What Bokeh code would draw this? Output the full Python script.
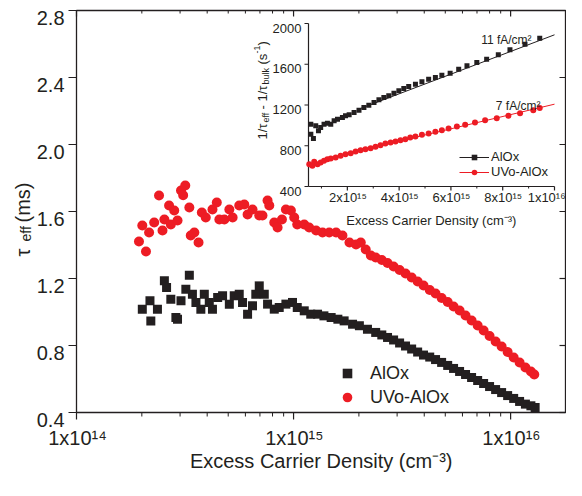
import math
from bokeh.plotting import figure
from bokeh.models import Legend, LegendItem, Range1d, LinearScale
from bokeh.core.properties import value
from bokeh.embed import file_html
from bokeh.resources import INLINE

FONT = "Liberation Sans"
INK = "#231f20"
BLACK = "#231f20"
RED = "#ed1c24"

# ---------------- main plot data (excess carrier density, tau_eff in ms) ----------------
alox_n = [2.01e14, 2.18e14, 2.20e14, 2.36e14, 2.54e14, 2.60e14, 2.72e14, 2.87e14, 2.92e14, 3.03e14,
          3.19e14, 3.31e14, 3.42e14, 3.55e14, 3.74e14, 3.88e14, 4.09e14, 4.23e14, 4.47e14, 4.71e14,
          5.06e14, 5.33e14, 5.62e14, 5.82e14, 6.14e14, 6.47e14, 6.70e14, 6.95e14, 7.33e14, 7.59e14,
          8.15e14, 8.59e14, 9.22e14, 9.89e14, 1.04e15, 1.12e15, 1.20e15, 1.29e15, 1.38e15, 1.49e15,
          1.60e15, 1.71e15, 1.87e15, 2.01e15, 2.19e15,
          2.39e15, 2.55e15, 2.71e15, 2.89e15, 3.08e15, 3.28e15, 3.50e15, 3.73e15, 3.97e15, 4.24e15,
          4.51e15, 4.81e15, 5.13e15, 5.46e15, 5.82e15, 6.20e15, 6.61e15, 7.05e15, 7.51e15, 8.00e15,
          8.53e15, 9.09e15, 9.69e15, 1.033e16, 1.10e16, 1.17e16, 1.24e16, 1.297e16]
alox_tau = [1.017, 1.067, 0.947, 1.017, 1.186, 1.146, 1.076, 0.967, 0.957, 1.067,
            1.136, 1.220, 1.106, 1.057, 1.017, 1.106, 1.057, 1.017, 1.087, 1.097,
            1.047, 1.097, 1.106, 1.057, 0.987, 1.037, 1.106, 1.156, 1.106, 1.047,
            1.017, 1.027, 1.047, 1.057, 1.027, 1.007, 0.987, 0.987, 0.977, 0.967,
            0.957, 0.947, 0.927, 0.918, 0.897,
            0.878, 0.863, 0.848, 0.833, 0.815, 0.797, 0.779, 0.761, 0.743, 0.731,
            0.716, 0.699, 0.681, 0.663, 0.645, 0.627, 0.609, 0.591, 0.573, 0.555,
            0.537, 0.519, 0.501, 0.484, 0.466, 0.450, 0.440, 0.430]

uvo_n = [1.94e14, 2.01e14, 2.09e14, 2.16e14, 2.28e14, 2.40e14, 2.49e14, 2.54e14, 2.67e14, 2.72e14,
         2.82e14, 2.92e14, 3.03e14, 3.10e14, 3.17e14, 3.31e14, 3.36e14, 3.49e14, 3.65e14, 3.78e14,
         3.94e14, 4.23e14, 4.43e14, 4.55e14, 4.80e14, 5.06e14, 5.24e14, 5.62e14, 5.93e14, 6.14e14,
         6.47e14, 6.95e14, 7.19e14, 7.59e14, 7.73e14, 8.15e14, 8.44e14, 8.84e14, 9.22e14, 9.72e14,
         1.007e15, 1.04e15, 1.12e15, 1.18e15, 1.27e15, 1.36e15, 1.46e15, 1.57e15, 1.68e15, 1.81e15,
         1.94e15, 2.04e15, 2.15e15, 2.27e15,
         2.39e15, 2.55e15, 2.71e15, 2.89e15, 3.08e15, 3.28e15, 3.50e15, 3.73e15, 3.97e15, 4.24e15,
         4.51e15, 4.81e15, 5.13e15, 5.46e15, 5.82e15, 6.20e15, 6.61e15, 7.05e15, 7.51e15, 8.00e15,
         8.53e15, 9.09e15, 9.69e15, 1.033e16, 1.10e16, 1.17e16, 1.24e16, 1.285e16]
uvo_tau = [1.421, 1.516, 1.361, 1.475, 1.534, 1.696, 1.487, 1.552, 1.636, 1.522,
           1.606, 1.546, 1.725, 1.697, 1.755, 1.624, 1.457, 1.475, 1.415, 1.594,
           1.564, 1.612, 1.654, 1.552, 1.552, 1.612, 1.564, 1.636, 1.642, 1.582,
           1.612, 1.576, 1.576, 1.666, 1.636, 1.534, 1.504, 1.552, 1.612, 1.606,
           1.564, 1.522, 1.522, 1.504, 1.487, 1.475, 1.475, 1.475, 1.457, 1.415,
           1.403, 1.415, 1.373, 1.337,
           1.325, 1.310, 1.293, 1.272, 1.251, 1.230, 1.206, 1.182, 1.158, 1.131,
           1.110, 1.084, 1.060, 1.033, 1.009, 0.979, 0.949, 0.919, 0.890, 0.857,
           0.824, 0.794, 0.761, 0.728, 0.699, 0.669, 0.645, 0.627]

main_x_major = [1e14, 1e15, 1e16]
main_x_minor = [2e14, 3e14, 4e14, 5e14, 6e14, 7e14, 8e14, 9e14,
                2e15, 3e15, 4e15, 5e15, 6e15, 7e15, 8e15, 9e15]
main_x_end = 1.79e16
main_y_ticks = [0.4, 0.8, 1.2, 1.6, 2.0, 2.4, 2.8]
series_labels = ["AlOx", "UVo-AlOx"]
axis_title_x = "Excess Carrier Density (cm\u207b\u00b3)"

# ---------------- inset data (1/tau_eff - 1/tau_bulk in 1/s) ----------------
ins_alox_n = [0.59e15, 0.59e15, 0.69e15, 0.78e15, 0.885e15, 0.97e15, 1.10e15, 1.23e15, 1.36e15, 1.49e15,
              1.62e15, 1.81e15, 1.93e15, 2.07e15, 2.26e15, 2.45e15, 2.64e15, 2.83e15, 3.03e15, 3.22e15,
              3.41e15, 3.60e15, 3.80e15, 3.99e15, 4.18e15, 4.37e15, 4.63e15, 4.88e15, 5.14e15, 5.40e15,
              5.65e15, 5.97e15, 6.30e15, 6.62e15, 7.00e15, 7.38e15, 7.83e15, 8.28e15, 8.86e15, 9.43e15]
ins_alox_v = [1012, 913, 871, 996, 947, 979, 1012, 1021, 1012, 1045,
              1061, 1077, 1094, 1104, 1126, 1149, 1175, 1198, 1225, 1251,
              1274, 1290, 1316, 1339, 1362, 1382, 1404, 1428, 1453, 1470,
              1493, 1512, 1551, 1585, 1617, 1650, 1693, 1742, 1797, 1856]
ins_uvo_n = [0.53e15, 0.65e15, 0.72e15, 0.85e15, 0.97e15, 1.10e15, 1.23e15, 1.36e15, 1.55e15, 1.74e15,
             1.93e15, 2.13e15, 2.32e15, 2.51e15, 2.70e15, 2.90e15, 3.09e15, 3.28e15, 3.47e15, 3.67e15,
             3.86e15, 4.05e15, 4.24e15, 4.43e15, 4.63e15, 4.88e15, 5.14e15, 5.40e15, 5.65e15, 5.91e15,
             6.23e15, 6.55e15, 6.93e15, 7.32e15, 7.77e15, 8.22e15, 8.67e15, 9.18e15, 9.43e15]
ins_uvo_v = [619, 603, 642, 619, 636, 652, 668, 675, 685, 701,
             717, 727, 744, 757, 766, 776, 790, 806, 822, 832,
             842, 855, 864, 881, 891, 907, 920, 937, 953, 969,
             989, 1006, 1028, 1051, 1070, 1094, 1120, 1149, 1170]
fit_alox_n = [2.5e15, 1e16]
fit_alox_v = [1165, 1889]
fit_uvo_n = [2.5e15, 1e16]
fit_uvo_v = [755, 1208]
fit_labels = ["11 fA/cm\u00b2", "7 fA/cm\u00b2"]
ins_x_major = [2e15, 4e15, 6e15, 8e15, 1e16]
ins_x_minor = [1e15, 3e15, 5e15, 7e15, 9e15]
ins_y_ticks = [400, 800, 1200, 1600, 2000]
ins_x_lim = (5e14, 1e16)
ins_y_lim = (400, 2000)

SUP = str.maketrans("0123456789-", "\u2070\u00b9\u00b2\u00b3\u2074\u2075\u2076\u2077\u2078\u2079\u207b")

# approximate advance widths (em) of Liberation Sans, used to place left-aligned texts
EM = {c: 0.556 for c in "0123456789"}
EM.update({".": 0.278, "x": 0.5, " ": 0.278, "(": 0.333, ")": 0.333, "/": 0.278, "-": 0.333,
           "f": 0.278, "A": 0.667, "c": 0.5, "m": 0.833, "E": 0.667, "e": 0.556, "s": 0.5,
           "C": 0.722, "a": 0.556, "r": 0.333, "i": 0.222, "D": 0.722, "n": 0.556, "t": 0.278,
           "y": 0.5})
for ch in "\u2070\u00b9\u00b2\u00b3\u2074\u2075\u2076\u2077\u2078\u2079\u207b":
    EM[ch] = 0.333


def text_w(s, size):
    return sum(EM.get(c, 0.556) for c in s) * size


def sci(v):
    e = int(math.floor(math.log10(v) + 1e-9))
    m = int(round(v / 10 ** e))
    return f"{m}x10{str(e).translate(SUP)}"


# ---------------- geometry (page pixels; canvas at page 8..574 x 8..488) ----------------
W, H = 566, 480
CL, CT = 8, 8
CR, CB = CL + W, CT + H
FL, FR, FT, FB = 84, 573, 18, 420          # main plot box
IL, IR, IT, IB = 316, 562, 31, 194         # inset plot box
LOG0, LOG1 = math.log10(main_x_major[0]), math.log10(main_x_end)
Y0, Y1 = main_y_ticks[0], main_y_ticks[-1]


def lx(px):  # page x -> log10 of main data x
    return LOG0 + (px - FL) * (LOG1 - LOG0) / (FR - FL)


def my(py):
    return Y0 + (FB - py) * (Y1 - Y0) / (FB - FT)


def px_of_lx(v):
    return FL + (v - LOG0) * (FR - FL) / (LOG1 - LOG0)


def py_of_my(v):
    return FB - (v - Y0) * (FB - FT) / (Y1 - Y0)


UPX = (ins_x_lim[1] - ins_x_lim[0]) / (IR - IL)
UPY = (ins_y_lim[1] - ins_y_lim[0]) / (IB - IT)


def ix(px):  # page x -> inset data x
    return ins_x_lim[0] + (px - IL) * UPX


def iy(py):
    return ins_y_lim[0] + (IB - py) * UPY


def px_of_ix(v):
    return IL + (v - ins_x_lim[0]) / UPX


def py_of_iy(v):
    return IB - (v - ins_y_lim[0]) / UPY


p = figure(width=W, height=H, x_axis_type="log", title=None,
           x_range=Range1d(10 ** lx(CL), 10 ** lx(CR)), y_range=Range1d(my(CB), my(CT)),
           x_axis_location=None, y_axis_location=None,
           output_backend="svg", toolbar_location=None,
           min_border=0, min_border_left=0, min_border_right=0, min_border_top=0, min_border_bottom=0,
           outline_line_color=None, background_fill_color="white", border_fill_color="white")
p.grid.visible = False

p.extra_x_ranges = {"lx": Range1d(lx(CL), lx(CR)), "ix": Range1d(ix(CL), ix(CR))}
p.extra_x_scales = {"lx": LinearScale(), "ix": LinearScale()}
p.extra_y_ranges = {"my": Range1d(my(CB), my(CT)), "iy": Range1d(iy(CB), iy(CT))}
p.extra_y_scales = {"my": LinearScale(), "iy": LinearScale()}
LX = dict(x_range_name="lx", y_range_name="my")
IN = dict(x_range_name="ix", y_range_name="iy")
TXT = dict(text_font=value(FONT), text_color=INK, text_align="left", text_baseline="alphabetic")

# ---------------- main data (log x scale) ----------------
r_a = p.scatter(x=alox_n, y=alox_tau, marker="square", size=9, fill_color=BLACK, line_color=None)
r_u = p.scatter(x=uvo_n, y=uvo_tau, marker="circle", size=10, fill_color=RED, line_color=None)

leg = Legend(items=[LegendItem(label=series_labels[0], renderers=[r_a]),
                    LegendItem(label=series_labels[1], renderers=[r_u])],
             location=(259 + FL - CL, 3 + CB - FB), orientation="vertical", glyph_width=24, glyph_height=24,
             label_standoff=11, spacing=0, padding=0, margin=0, border_line_color=None,
             background_fill_alpha=0, label_text_font=FONT, label_text_font_size="18px",
             label_text_color=INK, label_height=24)
p.add_layout(leg)

# ---------------- inset ----------------
x0, x1 = ins_x_lim
y0, y1 = ins_y_lim
p.segment(x0=[x0, x0], y0=[y0, y0], x1=[x1, x0], y1=[y0, y1], line_color=INK, line_width=1.2, **IN)
p.segment(x0=ins_x_major, y0=[y0] * len(ins_x_major), x1=ins_x_major,
          y1=[y0 - 4 * UPY] * len(ins_x_major), line_color=INK, line_width=1.2, **IN)
p.segment(x0=ins_x_minor, y0=[y0] * len(ins_x_minor), x1=ins_x_minor,
          y1=[y0 - 2 * UPY] * len(ins_x_minor), line_color=INK, line_width=1, **IN)
p.segment(x0=[x0] * len(ins_y_ticks), y0=ins_y_ticks, x1=[x0 - 4 * UPX] * len(ins_y_ticks),
          y1=ins_y_ticks, line_color=INK, line_width=1.2, **IN)
lab = [sci(t) for t in ins_x_major]
p.text(x=[ix(min(px_of_ix(t) - text_w(s, 13) / 2, CR - 2 - text_w(s, 13))) for t, s in zip(ins_x_major, lab)],
       y=[iy(205)] * len(lab), text=lab, text_font_size="13px", **TXT, **IN)
lab = [str(t) for t in ins_y_ticks]
p.text(x=[ix(309 - text_w(s, 13)) for s in lab], y=[iy(py_of_iy(t) + 4.7) for t in ins_y_ticks],
       text=lab, text_font_size="13px", **TXT, **IN)
p.text(x=[ix((IL + IR) / 2 - text_w(axis_title_x, 13) / 2)], y=[iy(227.5)], text=[axis_title_x],
       text_font_size="13px", **TXT, **IN)
ylab = [("1/\u03c4", 270, 147, "13px"), ("eff", 273, 130, "9px"), ("- 1/\u03c4", 270, 117, "13px"),
        ("bulk", 273, 92, "9px"), ("(s", 270, 72, "13px"), ("-1", 264, 61, "9px"), (")", 270, 53, "13px")]
for txt, px, py, size in ylab:
    p.text(x=[ix(px)], y=[iy(py)], text=[txt], angle=math.pi / 2, text_font_size=size, **TXT, **IN)

f_a = p.line(x=fit_alox_n, y=fit_alox_v, line_color=BLACK, line_width=1, **IN)
f_u = p.line(x=fit_uvo_n, y=fit_uvo_v, line_color=RED, line_width=1, **IN)
s_a = p.scatter(x=ins_alox_n, y=ins_alox_v, marker="square", size=5, fill_color=BLACK, line_color=None, **IN)
s_u = p.scatter(x=ins_uvo_n, y=ins_uvo_v, marker="circle", size=6, fill_color=RED, line_color=None, **IN)

p.text(x=[ix(540 - text_w(fit_labels[0], 12))], y=[iy(47)], text=[fit_labels[0]],
       text_font_size="12px", **TXT, **IN)
p.text(x=[ix(548 - text_w(fit_labels[1], 12))], y=[iy(113)], text=[fit_labels[1]],
       text_font_size="12px", **TXT, **IN)

ileg = Legend(items=[LegendItem(label=series_labels[0], renderers=[f_a, s_a]),
                     LegendItem(label=series_labels[1], renderers=[f_u, s_u])],
              location=(467 - CL, CB - 187), orientation="vertical", glyph_width=30, glyph_height=14,
              label_standoff=2, spacing=0, padding=0, margin=0, border_line_color=None,
              background_fill_alpha=0, label_text_font=FONT, label_text_font_size="13px",
              label_text_color=INK, label_height=14)
p.add_layout(ileg)

# ---------------- main axes box, ticks and texts (drawn last, on linear ranges) ----------------
d0, d1 = LOG0, LOG1
dmaj = [math.log10(t) for t in main_x_major]
dmin = [math.log10(t) for t in main_x_minor]
nmaj, nmin, ny = len(dmaj), len(dmin), len(main_y_ticks)
p.quad(left=[d0], right=[d1], bottom=[Y0], top=[Y1], fill_color=None, line_color=INK, line_width=1.3, **LX)
p.segment(x0=dmaj, y0=[Y0] * nmaj, x1=dmaj, y1=[my(FB + 7)] * nmaj, line_color=INK, line_width=1.2, **LX)
p.segment(x0=dmin, y0=[Y0] * nmin, x1=dmin, y1=[my(FB + 4)] * nmin, line_color=INK, line_width=1, **LX)
p.segment(x0=dmaj, y0=[Y1] * nmaj, x1=dmaj, y1=[my(FT + 6)] * nmaj, line_color=INK, line_width=1.2, **LX)
p.segment(x0=dmin, y0=[Y1] * nmin, x1=dmin, y1=[my(FT + 3)] * nmin, line_color=INK, line_width=1, **LX)
p.segment(x0=[d0] * ny, y0=main_y_ticks, x1=[lx(FL - 8)] * ny, y1=main_y_ticks, line_color=INK, line_width=1.2, **LX)
p.segment(x0=[d1] * ny, y0=main_y_ticks, x1=[lx(FR - 6)] * ny, y1=main_y_ticks, line_color=INK, line_width=1.2, **LX)

lab = [sci(t) for t in main_x_major]
p.text(x=[lx(px_of_lx(d) - text_w(s, 20) / 2) for d, s in zip(dmaj, lab)], y=[my(445)] * nmaj,
       text=lab, text_font_size="20px", **TXT, **LX)
lab = [f"{t:.1f}" for t in main_y_ticks]
p.text(x=[lx(72 - text_w(s, 20)) for s in lab], y=[my(py_of_my(t) + 7.2) for t in main_y_ticks],
       text=lab, text_font_size="20px", **TXT, **LX)
p.text(x=[lx((FL + FR) / 2 - text_w(axis_title_x, 20) / 2)], y=[my(468)], text=[axis_title_x],
       text_font_size="20px", **TXT, **LX)
for txt, px, py, size in [("\u03c4", 30, 264, "20px"), ("eff", 33, 249, "14px"), ("(ms)", 30, 230, "20px")]:
    p.text(x=[lx(px)], y=[my(py)], text=[txt], angle=math.pi / 2, text_font_size=size, **TXT, **LX)

open("out.html", "w", encoding="utf-8").write(file_html(p, INLINE))
